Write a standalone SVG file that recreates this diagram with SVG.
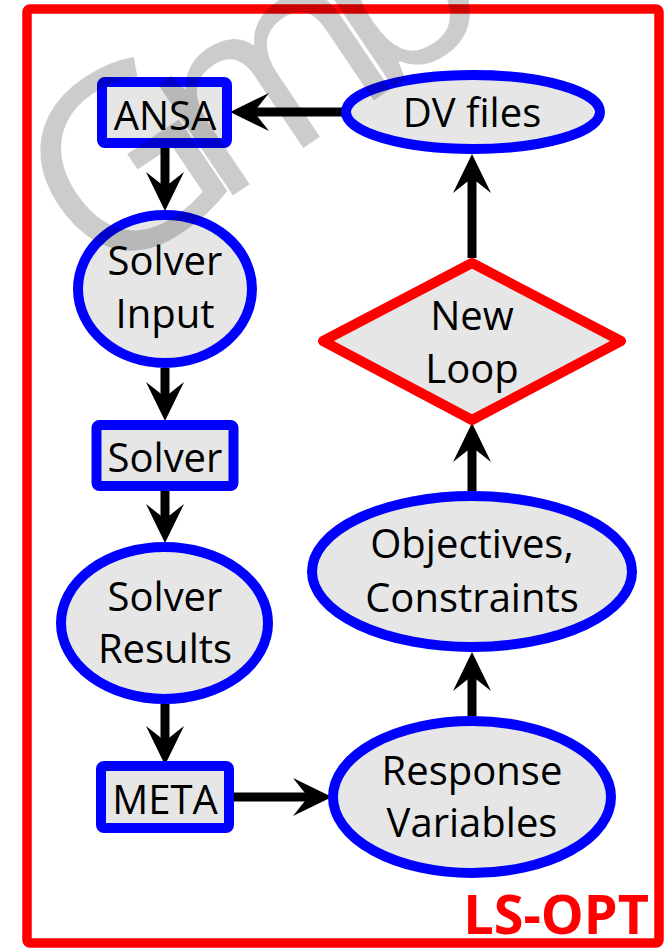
<svg xmlns="http://www.w3.org/2000/svg" width="668" height="948" viewBox="0 0 668 948">
  <style>
    .box { fill: #e6e6e6; stroke: #0000ff; stroke-width: 10; }
    .dec { fill: #e6e6e6; stroke: #ff0000; stroke-width: 10; stroke-linejoin: round; }
    .lbl { font-family: "Open Sans", "Noto Sans", "Liberation Sans", sans-serif; font-size: 40px; fill: #000; text-anchor: middle; }
    .edge { stroke: #000; stroke-width: 9; fill: none; marker-end: url(#arr); }
    .wm { font-family: "Open Sans", "Noto Sans", sans-serif; font-size: 250px; letter-spacing: -38px; fill: #000; fill-opacity: 0.2; }
  </style>
  <defs>
    <marker id="arr" viewBox="-20 -20 42 40" refX="0" refY="0" markerWidth="42" markerHeight="40" markerUnits="userSpaceOnUse" orient="auto">
      <path d="M20,0 L-19,-19 L-4,0 L-19,19 Z" fill="#000"/>
    </marker>
  </defs>
  <rect x="0" y="0" width="668" height="948" fill="#fff"/>
  <g id="frame">
    <rect x="27" y="9" width="632" height="934" rx="3" fill="none" stroke="#ff0000" stroke-width="9.5"/>
    <text x="649" y="934" font-family="Open Sans, Noto Sans, Liberation Sans, sans-serif" font-size="54" font-weight="bold" fill="#ff0000" text-anchor="end">LS-OPT</text>
  </g>
  <g id="connectors">
    <line class="edge" x1="346" y1="112" x2="250" y2="112"/>
    <line class="edge" x1="165" y1="148" x2="165" y2="191"/>
    <line class="edge" x1="165" y1="368" x2="165" y2="401"/>
    <line class="edge" x1="165" y1="491" x2="165" y2="523"/>
    <line class="edge" x1="165" y1="704" x2="165" y2="745"/>
    <line class="edge" x1="234" y1="797" x2="312" y2="797"/>
    <line class="edge" x1="472" y1="716" x2="472" y2="672"/>
    <line class="edge" x1="472" y1="491" x2="472" y2="443"/>
    <line class="edge" x1="472" y1="258" x2="472" y2="174"/>
  </g>
  <g id="ansa">
    <rect class="box" x="102" y="82" width="125" height="61" rx="3"/>
    <text class="lbl" x="165" y="130">ANSA</text>
  </g>
  <g id="dv-files">
    <ellipse class="box" cx="473" cy="112" rx="127" ry="37"/>
    <text class="lbl" x="472" y="127">DV files</text>
  </g>
  <g id="solver-input">
    <ellipse class="box" cx="165" cy="289" rx="87" ry="74"/>
    <text class="lbl" x="165" y="275">Solver</text>
    <text class="lbl" x="165" y="328">Input</text>
  </g>
  <g id="solver">
    <rect class="box" x="96.5" y="425" width="137" height="61" rx="3"/>
    <text class="lbl" x="165" y="472">Solver</text>
  </g>
  <g id="solver-results">
    <ellipse class="box" cx="164.5" cy="623" rx="103.5" ry="76"/>
    <text class="lbl" x="165" y="611">Solver</text>
    <text class="lbl" x="165" y="663">Results</text>
  </g>
  <g id="meta">
    <rect class="box" x="101" y="766" width="128" height="62" rx="3"/>
    <text class="lbl" x="165" y="814">META</text>
  </g>
  <g id="response-variables">
    <ellipse class="box" cx="472" cy="797" rx="139" ry="76"/>
    <text class="lbl" x="472" y="785">Response</text>
    <text class="lbl" x="472" y="837">Variables</text>
  </g>
  <g id="objectives-constraints">
    <ellipse class="box" cx="472" cy="571.5" rx="160" ry="75.5"/>
    <text class="lbl" x="472" y="558">Objectives,</text>
    <text class="lbl" x="472" y="612">Constraints</text>
  </g>
  <g id="new-loop">
    <polygon class="dec" points="472,263 621,341 472,420 323,341"/>
    <text class="lbl" x="472" y="330">New</text>
    <text class="lbl" x="472" y="383">Loop</text>
  </g>
  <g id="watermark">
    <text class="wm" transform="translate(96,288) rotate(-34)">Gmb</text>
  </g>
</svg>
